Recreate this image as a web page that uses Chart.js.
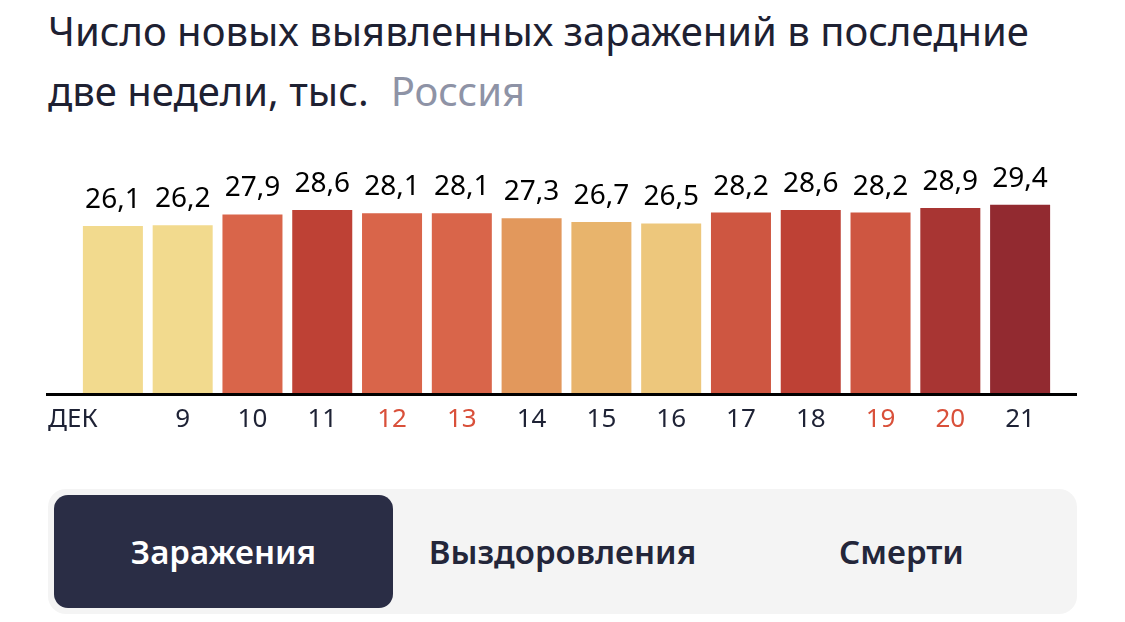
<!DOCTYPE html>
<html>
<head>
<meta charset="utf-8">
<script src="https://cdn.jsdelivr.net/npm/chart.js@4.4.0/dist/chart.umd.min.js"></script>
<style>
  body { margin: 0; width: 1125px; height: 622px; background: #fff; position: relative; overflow: hidden; font-family: "Noto Sans", sans-serif; }
  .title { position: absolute; left: 48px; top: 1px; font-size: 40px; line-height: 60px; color: #1e2132; }
  .title .region { color: #8e93a6; margin-left: 22px; }
  #wrap { position: absolute; left: 0; top: 130px; width: 1125px; height: 320px; }
  .tabs { position: absolute; left: 48px; top: 489px; width: 1029px; height: 125px; background: #f4f4f4; border-radius: 18px; }
  .tab { position: absolute; top: 6px; height: 113px; line-height: 113px; text-align: center; font-size: 33px; font-weight: 600; color: #23263a; }
  .tab.active { background: #2a2d45; color: #fff; border-radius: 14px; }
</style>
</head>
<body>
<div class="title">Число новых выявленных заражений в последние<br>две недели, тыс.<span class="region">Россия</span></div>
<div id="wrap"><canvas id="myChart"></canvas></div>
<div class="tabs">
  <div class="tab active" style="left:6px;width:339px;">Заражения</div>
  <div class="tab" style="left:345px;width:339px;">Выздоровления</div>
  <div class="tab" style="left:684px;width:339px;">Смерти</div>
</div>
<script>
// data
const days = ['ДЕК', '9', '10', '11', '12', '13', '14', '15', '16', '17', '18', '19', '20', '21'];
const cases = [26.1, 26.2, 27.9, 28.6, 28.1, 28.1, 27.3, 26.7, 26.5, 28.2, 28.6, 28.2, 28.9, 29.4];
const weekend = [false, false, false, false, true, true, false, false, false, false, false, true, true, false];
const barColors = ['#f2da8e', '#f2da8e', '#d9654a', '#be4135', '#d9654a', '#d9654a', '#e2985c',
                   '#e8b46c', '#edc77c', '#ce5641', '#be4135', '#ce5641', '#a83533', '#922a30'];

const valueLabels = {
    id: 'valueLabels',
    afterDatasetsDraw(chart) {
        const ctx = chart.ctx;
        const meta = chart.getDatasetMeta(0);
        ctx.save();
        ctx.font = '28px "Noto Sans"';
        ctx.fillStyle = '#000';
        ctx.textAlign = 'center';
        ctx.textBaseline = 'alphabetic';
        meta.data.forEach((bar, i) => {
            ctx.fillText(cases[i].toFixed(1).replace('.', ','), bar.x, bar.y - 18);
        });
        ctx.restore();
    }
};

// axis line + day labels, "ДЕК" sits left of first bar
const dayAxis = {
    id: 'dayAxis',
    afterDraw(chart) {
        const ctx = chart.ctx;
        const area = chart.chartArea;
        const x = chart.scales.x;
        ctx.save();
        ctx.strokeStyle = '#000';
        ctx.lineWidth = 3;
        ctx.beginPath();
        ctx.moveTo(area.left - 32, area.bottom + 1.5);
        ctx.lineTo(area.right + 22, area.bottom + 1.5);
        ctx.stroke();
        ctx.font = '26px "Noto Sans"';
        ctx.textBaseline = 'middle';
        days.forEach((d, i) => {
            ctx.fillStyle = weekend[i] ? '#d9503a' : '#1e2235';
            if (i === 0) {
                ctx.textAlign = 'left';
                ctx.fillText(d, area.left - 30, area.bottom + 27);
            } else {
                ctx.textAlign = 'center';
                ctx.fillText(d, x.getPixelForValue(i), area.bottom + 27);
            }
        });
        ctx.restore();
    }
};

var ctx = document.getElementById('myChart').getContext('2d');
var myChart = new Chart(ctx, {
    type: 'bar',
    data: {
        labels: days,
        datasets: [{
            data: cases,
            backgroundColor: barColors,
            borderWidth: 0,
            barPercentage: 0.86,
            categoryPercentage: 1
        }]
    },
    options: {
        responsive: true,
        maintainAspectRatio: false,
        animation: false,
        layout: { padding: { left: 78, right: 70, top: 39, bottom: 57 } },
        plugins: { legend: { display: false }, tooltip: { enabled: false } },
        scales: {
            x: { display: false },
            y: { display: false, min: 0, max: 35 }
        }
    },
    plugins: [valueLabels, dayAxis]
});
</script>
</body>
</html>
